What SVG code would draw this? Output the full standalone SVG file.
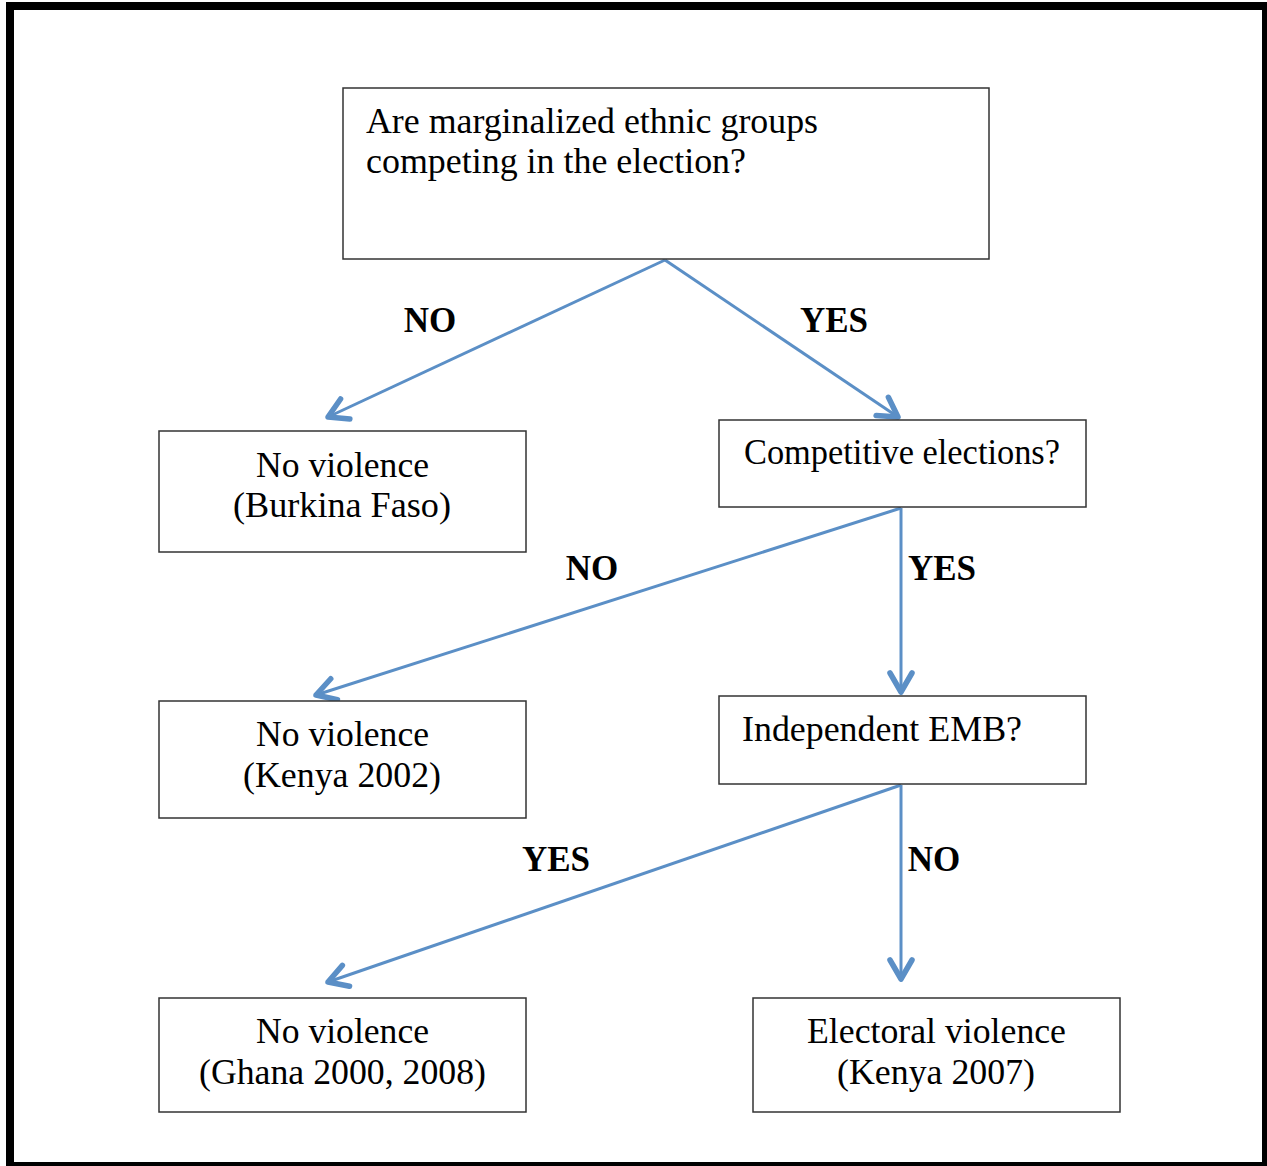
<svg xmlns="http://www.w3.org/2000/svg" width="1267" height="1166" viewBox="0 0 1267 1166">
<style>
.box{fill:#fff;stroke:#333;stroke-width:1.5}
.t{font-family:"Liberation Serif","Times New Roman",serif;font-size:35px;fill:#000}
.c{text-anchor:middle}
.lbl{font-family:"Liberation Serif","Times New Roman",serif;font-size:35px;font-weight:bold;fill:#000;text-anchor:middle}
.edge{stroke:#5b8fc6;stroke-width:3;fill:none;marker-end:url(#arr)}
</style>
<defs>
<marker id="arr" markerUnits="userSpaceOnUse" viewBox="-26 -16 30 32" markerWidth="30" markerHeight="32" refX="0" refY="0" orient="auto">
<path d="M-19,-11 L0,0 L-19,11" fill="none" stroke="#5b8fc6" stroke-width="5.5" stroke-linecap="round" stroke-linejoin="round"/>
</marker>
</defs>
<rect x="0" y="0" width="1267" height="1166" fill="#fff"/>
<rect x="10" y="6" width="1256" height="1160" fill="none" stroke="#000" stroke-width="8"/>
<g id="connectors">
<line class="edge" x1="665" y1="260" x2="328" y2="417"/>
<line class="edge" x1="665" y1="260" x2="898" y2="417"/>
<line class="edge" x1="901" y1="508" x2="316" y2="695"/>
<line class="edge" x1="901" y1="508" x2="901" y2="692"/>
<line class="edge" x1="901" y1="785" x2="328" y2="982"/>
<line class="edge" x1="901" y1="785" x2="901" y2="979"/>
</g>
<g id="labels">
<text class="lbl" x="430" y="332">NO</text>
<text class="lbl" x="834" y="332">YES</text>
<text class="lbl" x="592" y="580">NO</text>
<text class="lbl" x="942" y="580">YES</text>
<text class="lbl" x="556" y="871">YES</text>
<text class="lbl" x="934" y="871">NO</text>
</g>
<g id="q1">
<rect class="box" x="343" y="88" width="646" height="171"/>
<text class="t" x="366" y="133" textLength="452" lengthAdjust="spacingAndGlyphs">Are marginalized ethnic groups</text>
<text class="t" x="366" y="173" textLength="380" lengthAdjust="spacingAndGlyphs">competing in the election?</text>
</g>
<g id="n1">
<rect class="box" x="159" y="431" width="367" height="121"/>
<text class="t c" x="342.5" y="477" textLength="173" lengthAdjust="spacingAndGlyphs">No violence</text>
<text class="t c" x="342" y="517" textLength="218" lengthAdjust="spacingAndGlyphs">(Burkina Faso)</text>
</g>
<g id="q2">
<rect class="box" x="719" y="420" width="367" height="87"/>
<text class="t" x="744" y="464" textLength="316" lengthAdjust="spacingAndGlyphs">Competitive elections?</text>
</g>
<g id="n2">
<rect class="box" x="159" y="701" width="367" height="117"/>
<text class="t c" x="342.5" y="746" textLength="173" lengthAdjust="spacingAndGlyphs">No violence</text>
<text class="t c" x="342" y="787" textLength="198" lengthAdjust="spacingAndGlyphs">(Kenya 2002)</text>
</g>
<g id="q3">
<rect class="box" x="719" y="696" width="367" height="88"/>
<text class="t" x="742" y="741" textLength="280" lengthAdjust="spacingAndGlyphs">Independent EMB?</text>
</g>
<g id="n3">
<rect class="box" x="159" y="998" width="367" height="114"/>
<text class="t c" x="342.5" y="1043" textLength="173" lengthAdjust="spacingAndGlyphs">No violence</text>
<text class="t c" x="342.5" y="1084" textLength="287" lengthAdjust="spacingAndGlyphs">(Ghana 2000, 2008)</text>
</g>
<g id="n4">
<rect class="box" x="753" y="998" width="367" height="114"/>
<text class="t c" x="936.5" y="1043" textLength="259" lengthAdjust="spacingAndGlyphs">Electoral violence</text>
<text class="t c" x="936" y="1084" textLength="198" lengthAdjust="spacingAndGlyphs">(Kenya 2007)</text>
</g>
</svg>
